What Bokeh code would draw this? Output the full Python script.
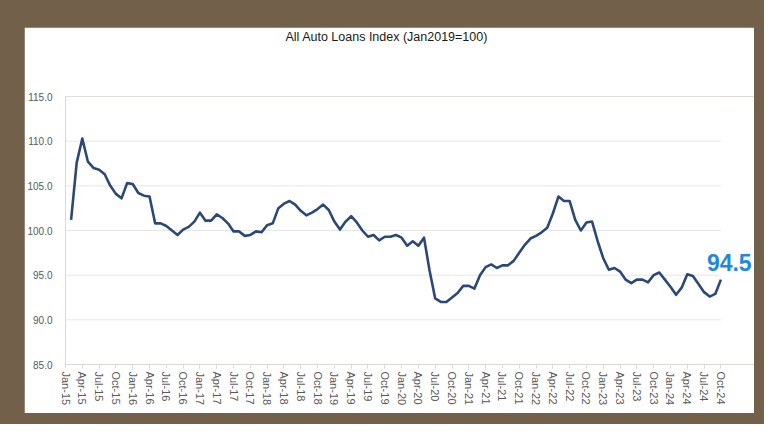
import math
from bokeh.plotting import figure
from bokeh.layouts import column
from bokeh.models import Range1d, FixedTicker, Label, Title
from bokeh.embed import file_html
from bokeh.resources import INLINE

title_text = "All Auto Loans Index (Jan2019=100)"

# Monthly index values, Feb-15 .. Oct-24
index_values = [
    101.2, 107.6, 110.3, 107.7, 107.0, 106.8, 106.3, 105.0, 104.1, 103.6, 105.3,
    105.2, 104.2, 103.9, 103.8, 100.8, 100.8, 100.5, 100.0, 99.5, 100.1, 100.4, 101.0,
    102.0, 101.1, 101.1, 101.8, 101.4, 100.8, 99.9, 99.9, 99.4, 99.5, 99.9, 99.8,
    100.6, 100.8, 102.5, 103.0, 103.3, 102.9, 102.2, 101.7, 102.0, 102.4, 102.9, 102.3,
    101.0, 100.1, 101.0, 101.6, 100.9, 100.0, 99.3, 99.5, 98.9, 99.3, 99.3, 99.5,
    99.2, 98.3, 98.8, 98.3, 99.2, 95.5, 92.4, 92.0, 92.0, 92.5, 93.0, 93.8,
    93.8, 93.5, 95.0, 95.9, 96.2, 95.8, 96.1, 96.1, 96.6, 97.5, 98.4, 99.1,
    99.4, 99.8, 100.3, 101.9, 103.8, 103.3, 103.3, 101.2, 100.0, 100.9, 101.0, 98.8,
    96.9, 95.6, 95.8, 95.4, 94.5, 94.1, 94.5, 94.5, 94.2, 95.0, 95.3, 94.5,
    93.7, 92.8, 93.6, 95.1, 94.9, 94.0, 93.1, 92.6, 92.9, 94.5,
]
first_month_index = 1  # Feb-15 (Jan-15 = 0)

tick_labels = [
    "Jan-15", "Apr-15", "Jul-15", "Oct-15", "Jan-16", "Apr-16", "Jul-16", "Oct-16",
    "Jan-17", "Apr-17", "Jul-17", "Oct-17", "Jan-18", "Apr-18", "Jul-18", "Oct-18",
    "Jan-19", "Apr-19", "Jul-19", "Oct-19", "Jan-20", "Apr-20", "Jul-20", "Oct-20",
    "Jan-21", "Apr-21", "Jul-21", "Oct-21", "Jan-22", "Apr-22", "Jul-22", "Oct-22",
    "Jan-23", "Apr-23", "Jul-23", "Oct-23", "Jan-24", "Apr-24", "Jul-24", "Oct-24",
]
y_ticks = [85, 90, 95, 100, 105, 110, 115]
last_value_text = "94.5"

x_vals = [first_month_index + i for i in range(len(index_values))]
tick_pos = [3 * i for i in range(len(tick_labels))]
x_end = tick_pos[-1]

BROWN = "#72604b"
FONT = "Liberation Sans"

fig = figure(
    title=None,
    width=730, height=386, output_backend="svg", toolbar_location=None,
    x_range=Range1d(0, x_end + 6), y_range=Range1d(y_ticks[0], y_ticks[-1]),
    min_border_left=40, min_border_right=0, min_border_top=69, min_border_bottom=49,
)
fig.margin = (27, 10, 11, 24)
fig.border_fill_color = "white"
fig.background_fill_color = "white"
fig.outline_line_color = None

# horizontal gridlines and the category axis line, spanning the data months only
grid_y = y_ticks[1:]
fig.segment(x0=[0] * len(grid_y), y0=grid_y, x1=[x_end] * len(grid_y), y1=grid_y,
            line_color="#e6e6e6", line_width=1)
fig.segment(x0=[0], y0=[y_ticks[0]], x1=[x_end], y1=[y_ticks[0]],
            line_color="#d9d9d9", line_width=1)

fig.line(x_vals, index_values, line_color="#2c4876", line_width=2.6, line_join="round")

# axes
fig.xaxis.ticker = FixedTicker(ticks=tick_pos)
fig.xaxis.major_label_overrides = {t: l for t, l in zip(tick_pos, tick_labels)}
fig.xaxis.major_label_orientation = -math.pi / 2
fig.xaxis.axis_line_color = None
fig.xaxis.major_tick_line_color = "#d9d9d9"
fig.xaxis.major_tick_out = 4
fig.xaxis.major_tick_in = 0
fig.xaxis.minor_tick_line_color = None
fig.xaxis.minor_tick_out = 0
fig.xaxis.minor_tick_in = 0
fig.xaxis.major_label_text_font = FONT
fig.xaxis.major_label_text_font_size = "11px"
fig.xaxis.major_label_text_color = "#595959"
fig.xaxis.major_label_standoff = 3

fig.yaxis.ticker = FixedTicker(ticks=y_ticks)
fig.yaxis.major_label_overrides = {t: f"{t:.1f}" for t in y_ticks}
fig.yaxis.axis_line_color = None
fig.yaxis.major_tick_line_color = None
fig.yaxis.major_tick_out = 0
fig.yaxis.major_tick_in = 0
fig.yaxis.minor_tick_line_color = None
fig.yaxis.minor_tick_out = 0
fig.yaxis.minor_tick_in = 0
fig.yaxis.major_label_text_font = FONT
fig.yaxis.major_label_text_font_size = "10px"
fig.yaxis.major_label_text_color = "#595959"
fig.yaxis.major_label_standoff = 13

fig.xgrid.grid_line_color = None
fig.ygrid.grid_line_color = None

# spacer between the title and the plot area
spacer = Title(text=" ", text_font_size="20px", standoff=27, text_font=FONT)
fig.add_layout(spacer, "above")
main_title = Title(
    text=title_text, align="left", offset=220, vertical_align="top", standoff=0,
    text_font=FONT, text_font_size="12.5px", text_font_style="normal",
    text_color="#1a1a1a",
)
fig.add_layout(main_title, "above")

last = Label(
    x=x_vals[-1], y=index_values[-1], text=last_value_text,
    x_offset=-14, y_offset=17, text_align="left", text_baseline="middle",
    text_font=FONT, text_font_style="bold", text_font_size="23px",
    text_color="#1f88dd",
)
fig.add_layout(last)

p = column(fig, styles={"background-color": BROWN})

open("out.html", "w").write(file_html(p, INLINE))
